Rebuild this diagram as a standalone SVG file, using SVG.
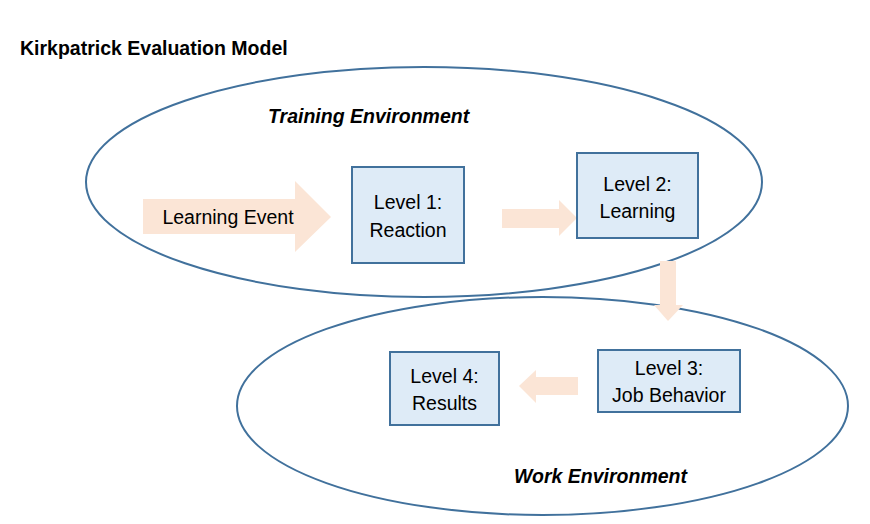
<svg xmlns="http://www.w3.org/2000/svg" width="870" height="524" viewBox="0 0 870 524">
<style>
.env{fill:none;stroke:#41719C;stroke-width:2}
.box rect{fill:#DEEBF7;stroke:#41719C;stroke-width:2}
.arr{fill:#FBE5D6}
text{font-family:"Liberation Sans",Arial,sans-serif;fill:#000}
.lbl{font-size:19.5px;text-anchor:middle}
.title{font-size:19.5px;font-weight:bold}
.envt{font-size:19.5px;font-weight:bold;font-style:italic}
</style>
<rect width="870" height="524" fill="#fff"/>
<text class="title" x="20" y="55">Kirkpatrick Evaluation Model</text>
<g id="training-env">
<ellipse class="env" cx="424" cy="182" rx="338" ry="115"/>
<text class="envt" x="268" y="123">Training Environment</text>
</g>
<g id="work-env">
<ellipse class="env" cx="542.5" cy="406" rx="305.5" ry="109"/>
<text class="envt" x="514" y="483">Work Environment</text>
</g>
<g id="connectors">
<polygon class="arr" points="143,199 295,199 295,181 331,217 295,252 295,234 143,234"/>
<polygon class="arr" points="502,209 559,209 559,200 577,218 559,236 559,228 502,228"/>
<polygon class="arr" points="660,261 676,261 676,305 683,305 668,321 654,305 660,305"/>
<polygon class="arr" points="578,377 536,377 536,370 519,386 536,403 536,395 578,395"/>
</g>
<g id="learning-event">
<text class="lbl" x="228" y="224">Learning Event</text>
</g>
<g id="level1" class="box">
<rect x="352" y="167" width="112" height="96"/>
<text class="lbl" x="408" y="209">Level 1:</text>
<text class="lbl" x="408" y="237">Reaction</text>
</g>
<g id="level2" class="box">
<rect x="577" y="153" width="121" height="85"/>
<text class="lbl" x="637.5" y="191">Level 2:</text>
<text class="lbl" x="637.5" y="218">Learning</text>
</g>
<g id="level3" class="box">
<rect x="598" y="350" width="142" height="62"/>
<text class="lbl" x="669" y="375">Level 3:</text>
<text class="lbl" x="669" y="402">Job Behavior</text>
</g>
<g id="level4" class="box">
<rect x="390" y="352" width="109" height="73"/>
<text class="lbl" x="444.5" y="383">Level 4:</text>
<text class="lbl" x="444.5" y="410">Results</text>
</g>
</svg>
